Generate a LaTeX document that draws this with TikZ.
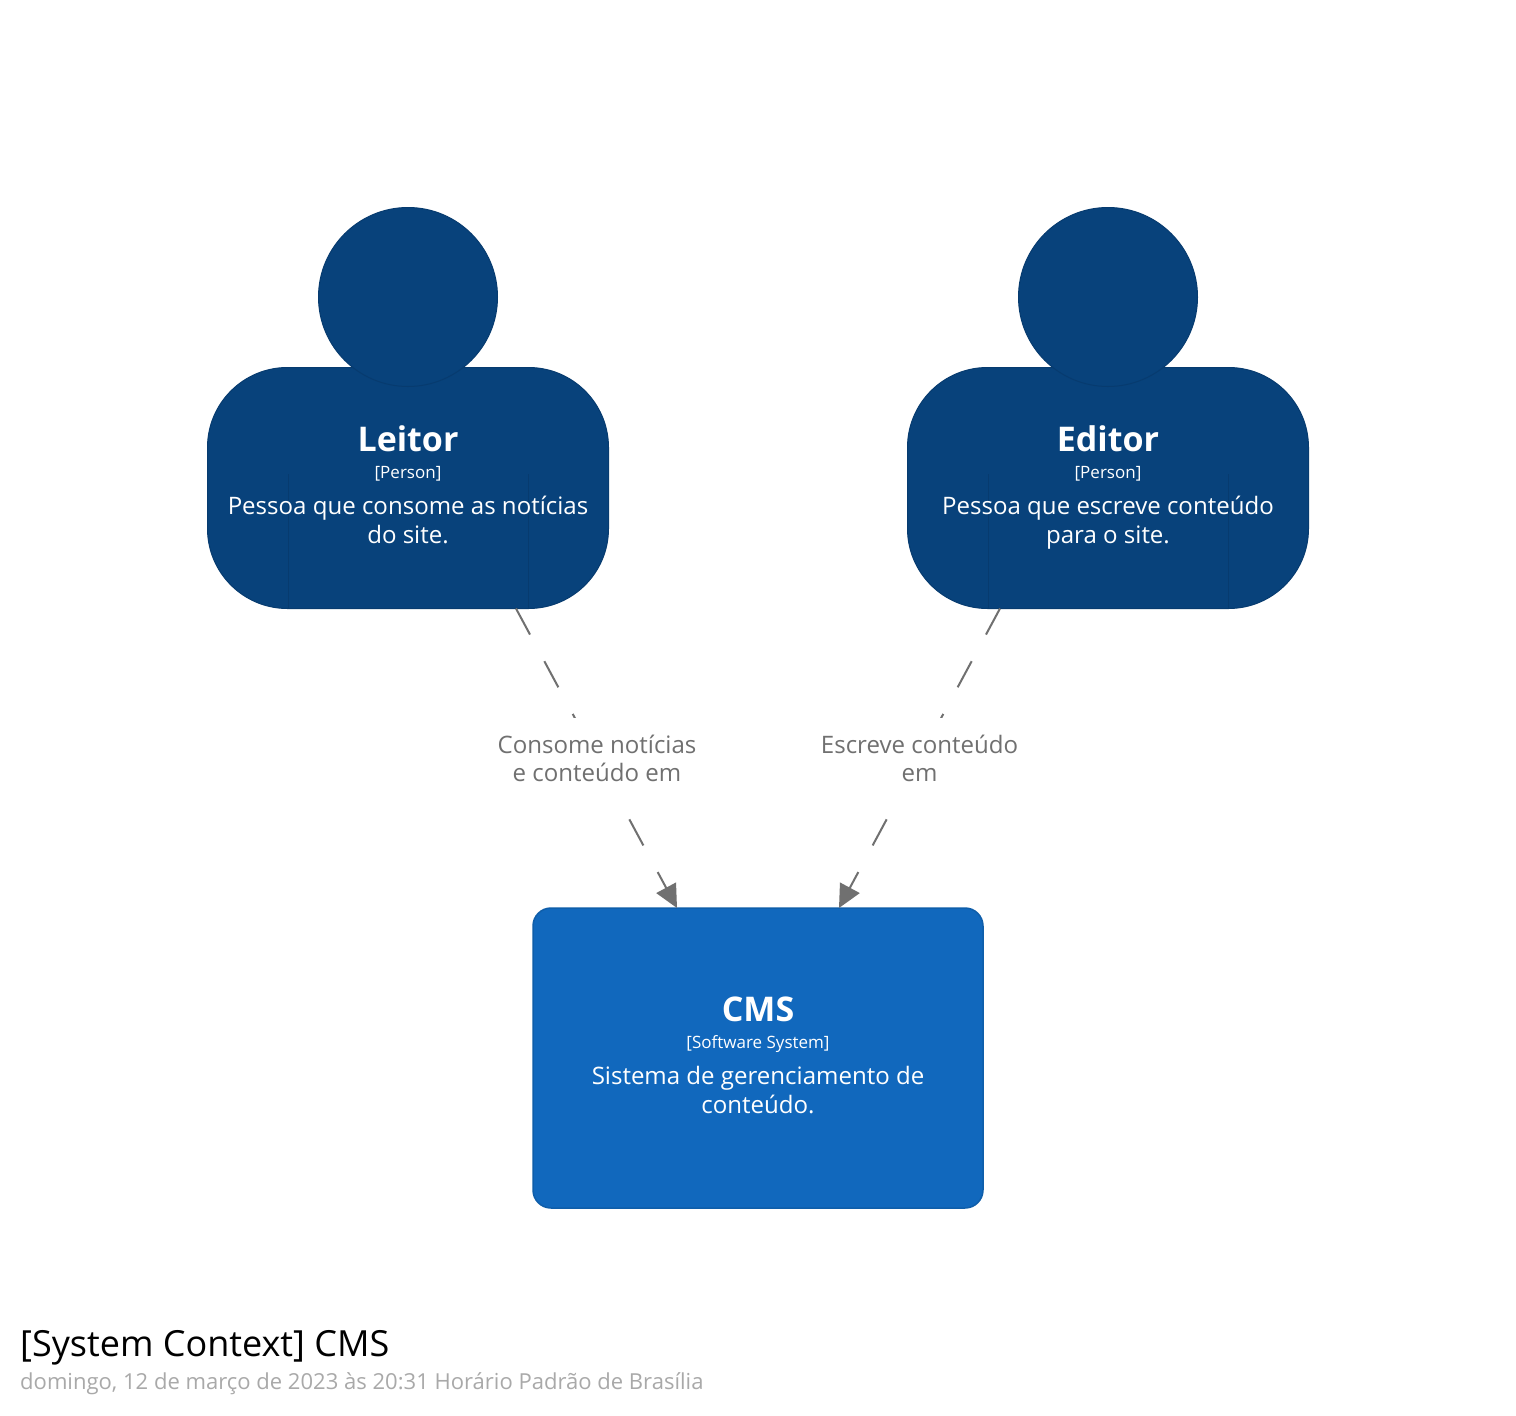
\documentclass[tikz,border=0pt]{standalone}
\usepackage{fontspec}
\setmainfont{Open Sans}
\usetikzlibrary{arrows.meta}
\definecolor{personfill}{HTML}{08427B}
\definecolor{personline}{HTML}{073B6F}
\definecolor{systemfill}{HTML}{1168BD}
\definecolor{systemline}{HTML}{0F5EAA}
\definecolor{edgegray}{HTML}{707070}
\definecolor{metagray}{HTML}{A9A9A9}
\tikzset{
  bodybox/.style={draw=personline,fill=personfill,line width=1pt,rounded corners=80pt,minimum width=401pt,minimum height=241pt,inner sep=0pt,outer sep=0pt},
  headdisc/.style={circle,draw=personline,fill=personfill,line width=1pt,minimum size=179pt,inner sep=0pt,outer sep=0pt},
  armline/.style={draw=personline,line width=1pt},
  sysbox/.style={draw=systemline,fill=systemfill,line width=1.5pt,rounded corners=18pt,minimum width=450pt,minimum height=300pt,inner sep=0pt,outer sep=0pt},
  nametext/.style={text=white,anchor=base,font=\fontsize{34}{34}\selectfont\bfseries,inner sep=0pt},
  kindtext/.style={text=white,anchor=base,font=\fontsize{17}{20}\selectfont,inner sep=0pt},
  desctext/.style={text=white,anchor=base,font=\fontsize{24.05}{29}\selectfont,inner sep=0pt,align=center},
  edgelabel/.style={text=edgegray,fill=white,font=\fontsize{24.05}{28}\selectfont,align=center,inner sep=0pt,minimum height=82pt,minimum width=200pt},
  relation/.style={draw=edgegray,line width=2pt,dash pattern=on 29.6pt off 30.25pt,-{Triangle[length=23pt,width=22pt]}},
  titletext/.style={text=black,anchor=base west,font=\fontsize{36}{36}\selectfont,inner sep=0pt},
  metatext/.style={text=metagray,anchor=base west,font=\fontsize{22.03}{22}\selectfont,inner sep=0pt}
}
\begin{document}
\begin{tikzpicture}[x=1pt,y=-1pt]
\path[use as bounding box,fill=white] (0,0) rectangle (1516,1416);
% Leitor
\node[bodybox] (leitorbody) at (408,488) {};
\draw[armline] (288,474) -- (288,608.5);
\draw[armline] (528,474) -- (528,608.5);
\node[headdisc] (leitorhead) at (408,297) {};
\node[nametext] (leitorname) at (408,451) {Leitor};
\node[kindtext] (leitorkind) at (408,478) {[Person]};
\node[desctext] (leitordesc1) at (408,514) {Pessoa que consome as notícias};
\node[desctext] (leitordesc2) at (408,543) {do site.};
% Editor
\node[bodybox] (editorbody) at (1108,488) {};
\draw[armline] (988,474) -- (988,608.5);
\draw[armline] (1228,474) -- (1228,608.5);
\node[headdisc] (editorhead) at (1108,297) {};
\node[nametext] (editorname) at (1108,451) {Editor};
\node[kindtext] (editorkind) at (1108,478) {[Person]};
\node[desctext] (editordesc1) at (1108,514) {Pessoa que escreve conteúdo};
\node[desctext] (editordesc2) at (1108,543) {para o site.};
% CMS
\node[sysbox] (cms) at (758,1058) {};
\node[nametext] (cmsname) at (758,1021) {CMS};
\node[kindtext] (cmskind) at (758,1048) {[Software System]};
\node[desctext] (cmsdesc1) at (758,1084) {Sistema de gerenciamento de};
\node[desctext] (cmsdesc2) at (758,1113) {conteúdo.};
% Relations
\draw[relation] ([xshift=108pt]leitorbody.south) -- ([xshift=-81pt]cms.north);
\draw[relation] ([xshift=-108pt]editorbody.south) -- ([xshift=81pt]cms.north);
\node[edgelabel] (leitorlabel) at (597,758.5) {Consome notícias\\e conteúdo em};
\node[edgelabel] (editorlabel) at (919.5,758.5) {Escreve conteúdo\\em};
% Title
\node[titletext] (diagramtitle) at (20,1356) {[System Context] CMS};
\node[metatext] (diagrammeta) at (20,1389) {domingo, 12 de março de 2023 às 20:31 Horário Padrão de Brasília};
\end{tikzpicture}
\end{document}
